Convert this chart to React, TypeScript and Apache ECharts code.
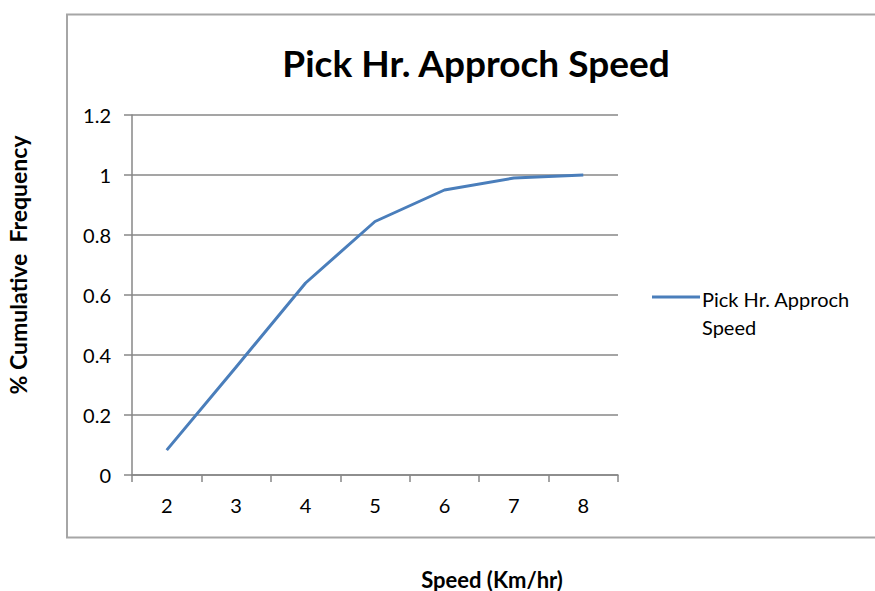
import React, { useEffect, useRef } from "react";
import * as echarts from "echarts";

const categories = ["2", "3", "4", "5", "6", "7", "8"];
const seriesName = "Pick Hr. Approch Speed";
const values = [0.083, 0.36, 0.64, 0.845, 0.95, 0.99, 1.0];
const chartTitle = "Pick Hr. Approch Speed";
const xTitle = "Speed (Km/hr)";
const yTitle = "% Cumulative  Frequency";
const legendLines = ["Pick Hr. Approch", "Speed"];

const FONT = "Lato, 'Open Sans', sans-serif";
const LINE_COLOR = "#4a7ebb";
const GRID_COLOR = "#878787";

export default function App() {
  const ref = useRef<HTMLDivElement>(null);
  useEffect(() => {
    if (!ref.current) return;
    const chart = echarts.init(ref.current, null, { renderer: "svg" });
    chart.setOption({
      animation: false,
      backgroundColor: "#ffffff",
      textStyle: { fontFamily: FONT },
      grid: { left: 132, right: 257, top: 115, bottom: 116, containLabel: false },
      xAxis: {
        type: "category",
        data: categories,
        boundaryGap: true,
        axisLine: { show: true, lineStyle: { color: GRID_COLOR, width: 1.5 } },
        axisTick: { show: true, length: 7, lineStyle: { color: GRID_COLOR, width: 1.5 } },
        axisLabel: { color: "#000", fontSize: 20, margin: 20, fontFamily: FONT },
        splitLine: { show: false },
      },
      yAxis: {
        type: "value",
        min: 0,
        max: 1.2,
        interval: 0.2,
        axisLine: { show: true, lineStyle: { color: GRID_COLOR, width: 1.5 } },
        axisTick: { show: true, length: 8, lineStyle: { color: GRID_COLOR, width: 1.5 } },
        axisLabel: {
          color: "#000",
          fontSize: 20,
          margin: 21,
          fontFamily: FONT,
          formatter: (v: number) => String(+v.toFixed(1)),
        },
        splitLine: { show: true, lineStyle: { color: GRID_COLOR, width: 1.5 } },
      },
      series: [
        {
          name: seriesName,
          type: "line",
          data: values,
          symbol: "none",
          lineStyle: { color: LINE_COLOR, width: 3 },
          itemStyle: { color: LINE_COLOR },
        },
      ],
      graphic: [
        {
          type: "rect",
          silent: true,
          shape: { x: 67, y: 14.5, width: 900, height: 523 },
          style: { fill: "none", stroke: "#a6a6a6", lineWidth: 2 },
          z: -10,
        },
        {
          type: "text",
          x: 476,
          y: 62,
          style: {
            text: chartTitle,
            fontFamily: FONT,
            fontWeight: "bold",
            fontSize: 37,
            fill: "#000",
            align: "center",
            verticalAlign: "middle",
          },
        },
        {
          type: "text",
          x: 492,
          y: 579,
          style: {
            text: xTitle,
            fontFamily: FONT,
            fontWeight: "bold",
            fontSize: 22,
            fill: "#000",
            align: "center",
            verticalAlign: "middle",
          },
        },
        {
          type: "text",
          x: 18,
          y: 265,
          rotation: Math.PI / 2,
          style: {
            text: yTitle,
            fontFamily: FONT,
            fontWeight: "bold",
            fontSize: 23,
            fill: "#000",
            align: "center",
            verticalAlign: "middle",
          },
        },
        {
          type: "line",
          shape: { x1: 652, y1: 297, x2: 700, y2: 297 },
          style: { stroke: LINE_COLOR, lineWidth: 3 },
        },
        {
          type: "text",
          x: 702,
          y: 299,
          style: {
            text: legendLines[0],
            fontFamily: FONT,
            fontSize: 20,
            fill: "#000",
            align: "left",
            verticalAlign: "middle",
          },
        },
        {
          type: "text",
          x: 702,
          y: 327,
          style: {
            text: legendLines[1],
            fontFamily: FONT,
            fontSize: 20,
            fill: "#000",
            align: "left",
            verticalAlign: "middle",
          },
        },
      ],
    });
    return () => chart.dispose();
  }, []);
  return <div ref={ref} style={{ width: 875, height: 591, position: "absolute", left: 0, top: 0 }} />;
}
